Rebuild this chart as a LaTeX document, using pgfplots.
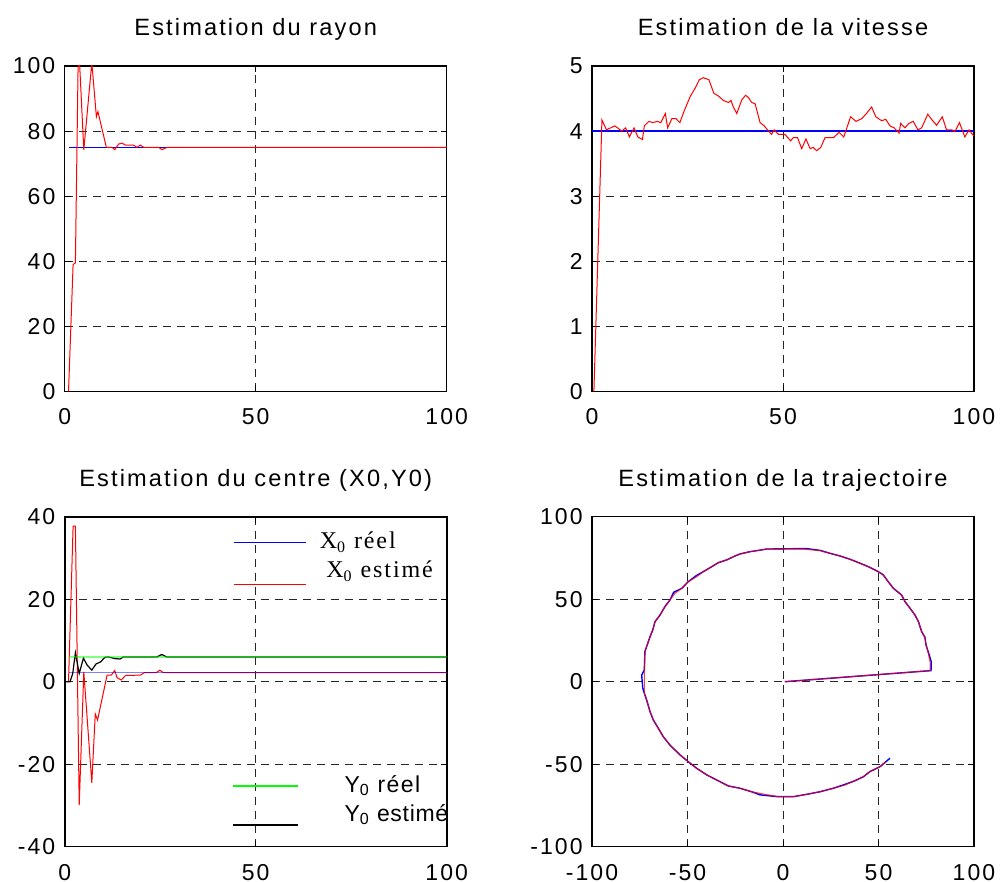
\documentclass[border=0pt]{standalone}
\usepackage{fontspec}
\setmainfont{Liberation Sans}[LetterSpace=9]
\newfontfamily\legserif{Liberation Serif}[LetterSpace=8]
\usepackage{pgfplots}
\pgfplotsset{compat=1.18}

\pgfplotsset{
  matlab/.style={
    scale only axis,
    width=191pt,
    anchor=south west,
    axis line style={line width=0.8pt},
    grid=major,
    grid style={dash pattern=on 4pt off 3pt, line width=0.5pt, black!85},
    tick align=inside, major tick length=3pt,
    tick style={black, line width=0.5pt},
    tick label style={font=\fontsize{11.5}{13}\selectfont},
    xticklabel style={anchor=north, inner sep=0pt, yshift=-8.5pt},
    yticklabel style={anchor=east, inner sep=0pt, xshift=-4.5pt},
    title style={anchor=base, yshift=9pt, inner sep=0pt,
      font=\fontsize{11.8}{13}\selectfont},
  },
  leg/.style={
    legend cell align=left,
    legend style={draw=none, fill=none, inner sep=0pt,
      nodes={inner sep=0pt}, font=\fontsize{11.5}{13}\selectfont},
  },
}

\begin{document}
\begin{tikzpicture}
\path[use as bounding box] (0,0) rectangle (504pt,441pt);

% rayon
\begin{axis}[matlab, at={(32.35pt,245.25pt)}, height=162.75pt,
  xmin=0, xmax=100, ymin=0, ymax=100,
  xtick={0,50,100}, xticklabels={0,50,100},
  ytick={0,20,40,60,80,100}, yticklabels={0,20,40,60,80,100},
  title={Estimation du rayon}]
\addplot[blue, line width=0.6pt] coordinates {(1,75) (100,75)};
\addplot[red, line width=0.5pt] coordinates {
  (1,0) (2.2,39) (2.8,39.5) (3.6,108) (5,74.2) (7.1,101) (8.3,84.4) (8.7,86)
  (10.9,75) (12.4,75) (13.1,74.3) (14.1,76) (15,76.3) (15.9,75.7) (18,75.7)
  (18.9,75) (19.8,75.7) (20.7,75) (24.6,75) (25.5,74.3) (26.8,75) (100,75)};
\end{axis}

% vitesse
\begin{axis}[matlab, at={(296pt,245.25pt)}, height=162.75pt,
  xmin=0, xmax=100, ymin=0, ymax=5,
  xtick={0,50,100}, xticklabels={0,50,100},
  ytick={0,1,2,3,4,5}, yticklabels={0,1,2,3,4,5},
  title={Estimation de la vitesse}]
\addplot[blue, line width=0.6pt] coordinates {(0,4) (100,4)};
\addplot[red, line width=0.5pt] coordinates {
  (0.5,0) (2.6,4.17) (3.8,4.02) (6,4.08) (7.8,4.0) (8.8,4.05) (9.8,3.91)
  (11,4.05) (12,3.91) (13.2,3.87) (13.7,4.08) (14.9,4.15) (15.9,4.13)
  (17.1,4.15) (18,4.13) (19.2,4.27) (19.8,4.05) (20.9,4.19) (22,4.19)
  (23,4.13) (24.2,4.32) (25.7,4.53) (27,4.66) (28.1,4.79) (29.1,4.82)
  (30.6,4.79) (31.9,4.58) (33.1,4.54) (34.4,4.47) (35.7,4.44) (36.4,4.47)
  (37,4.37) (37.9,4.27) (39.2,4.48) (40.2,4.55) (40.9,4.52) (41.8,4.44)
  (42.7,4.42) (44,4.13) (45.1,4.08) (46.2,4.0) (47,3.95) (47.7,4.02)
  (48.8,3.95) (50.5,3.95) (52,3.85) (52.7,3.9) (53.8,3.9) (54.9,3.73)
  (56,3.88) (57.1,3.73) (57.9,3.75) (58.8,3.7) (59.9,3.75) (61,3.9)
  (63.2,3.9) (64.7,3.98) (65.9,3.91) (67.7,4.22) (69.1,4.15) (70.6,4.19)
  (71.7,4.26) (73.2,4.37) (74.3,4.22) (75.8,4.16) (76.9,4.18) (78,4.08)
  (79.1,4.05) (80.4,3.97) (80.8,4.12) (81.9,4.05) (83,4.12) (84.1,4.15)
  (85.3,4.02) (86.3,4.05) (87.9,4.26) (88.9,4.18) (90.2,4.09) (91.7,4.22)
  (92.8,4.02) (94.2,4.02) (95,3.99) (96.2,4.13) (97.6,3.91) (98.7,4.02)
  (100,3.92)};
\end{axis}

% centre
\begin{axis}[matlab, leg, at={(32.35pt,17.65pt)}, height=165pt,
  xmin=0, xmax=100, ymin=-40, ymax=40,
  xtick={0,50,100}, xticklabels={0,50,100},
  ytick={-40,-20,0,20,40}, yticklabels={-40,-20,0,20,40},
  title={Estimation du centre (X0,Y0)},
  legend style={at={(0.441,0.927)}, anchor=north west, row sep=19.4pt},
  legend image code/.code={\draw[#1] (0pt,0pt) -- (36pt,0pt);}]
\addplot[red, line width=0.5pt, forget plot] coordinates {
  (1,0) (2.2,37.7) (2.8,37.7) (3.8,-29.9) (5,2.4) (7.1,-24.5) (8,-7.8)
  (8.6,-9.3) (11.1,1.6) (12.2,1.6) (13.1,2.7) (13.7,1.0) (14.8,0.4)
  (15.9,1.5) (19.8,1.6) (20.9,2.2) (24,2.2) (24.9,2.8) (25.8,2.2) (100,2.2)};
\addplot[blue, opacity=0.5, line width=0.6pt, forget plot] coordinates {(1,2.2) (100,2.2)};
\addlegendimage{blue, line width=0.8pt}
\addlegendentry{\raisebox{-3.75pt}[0pt][0pt]{\hspace{6.3pt}\legserif\fontsize{12}{13}\selectfont X\textsubscript{0} réel}}
\addlegendimage{red, line width=0.8pt}
\addlegendentry{\raisebox{2.75pt}[0pt][0pt]{\hspace{9.6pt}\legserif\fontsize{12}{13}\selectfont X\textsubscript{0} estimé}}
\end{axis}
\begin{axis}[leg, scale only axis, anchor=south west, at={(32.35pt,17.65pt)},
  width=191pt, height=165pt, hide axis,
  xmin=0, xmax=100, ymin=-40, ymax=40,
  legend style={at={(0.437,0.189)}, anchor=north west, row sep=17.9pt},
  legend image code/.code={\draw[#1] (0pt,0pt) -- (32.5pt,0pt);}]
\addplot[black, line width=0.6pt, forget plot] coordinates {
  (0,0) (1.4,0) (2.1,2.0) (2.8,7.0) (3.8,2.0) (4.9,5.7) (5.9,4.0) (7.1,2.8)
  (8.2,4.3) (9.4,4.8) (10.5,5.9) (11.4,6.0) (13.2,5.6) (14.5,5.5) (15.3,6.0)
  (24.1,6.0) (25.4,6.6) (26.7,6.0) (100,6.0)};
\addplot[green, opacity=0.5, line width=0.6pt, forget plot] coordinates {(1,6.0) (100,6.0)};
\addlegendimage{green, line width=0.8pt}
\addlegendentry{\raisebox{-3.75pt}[0pt][0pt]{\hspace{23pt}\addfontfeature{LetterSpace=6}Y\textsubscript{0} réel}}
\addlegendimage{black, line width=0.8pt}
\addlegendentry{\raisebox{1.1pt}[0pt][0pt]{\hspace{23pt}\addfontfeature{LetterSpace=3}Y\textsubscript{0} estimé}}
\end{axis}

% trajectoire
\begin{axis}[matlab, at={(296pt,17.65pt)}, height=165pt,
  xmin=-100, xmax=100, ymin=-100, ymax=100,
  xtick={-100,-50,0,50,100}, xticklabels={-100,-50,0,50,100},
  ytick={-100,-50,0,50,100}, yticklabels={-100,-50,0,50,100},
  title={Estimation de la trajectoire}]
\addplot[blue, line width=0.7pt] coordinates {
  (1,0) (77.5,6.7) (77.6,12.1) (76.3,17.2) (74.9,22.2) (74.3,26.9) (72.6,30.3)
  (70.9,36.4) (69.1,40.4) (66.5,44.5) (63.9,48.5) (62.1,52.5) (57.8,56.6)
  (55.1,60.6) (52.5,64.7) (49.9,66.7) (44.7,69.7) (40.3,71.8) (35.1,74.2)
  (29.8,76.2) (24.6,77.8) (19.4,79.6) (12,80.7) (-8.5,80.4) (-13.8,79.4)
  (-17.3,78.8) (-22.5,77.4) (-25.1,76.2) (-29.5,73.8) (-33.9,72.1)
  (-37.3,69.7) (-41.7,66.7) (-45.5,64.2) (-49.6,60.6) (-53,56.6)
  (-57.2,54.2) (-59.2,49.5) (-61.8,45.5) (-64.4,40.4) (-67,36.4) (-68.2,31.3)
  (-69.6,27.3) (-70.8,23.3) (-72.3,18.2) (-72.6,7.1) (-74,4) (-73.4,-4)
  (-72.6,-7.0) (-71.4,-11.1) (-69.6,-18.2) (-67.9,-23.2) (-65.3,-28.2)
  (-62.7,-33.3) (-59.2,-38.4) (-53.9,-44.4) (-49.6,-48.5) (-45.2,-52.5)
  (-39.9,-56.5) (-34.7,-59.6) (-28.6,-63.2) (-22.5,-64.6) (-16.4,-66.7)
  (-12,-68.6) (-2.5,-69.7) (5.4,-69.7) (13.2,-68.1) (19.4,-66.7) (26.3,-64.6)
  (32.5,-62.2) (37.7,-60) (42.1,-57.6) (45.5,-54.5) (50.8,-51.5) (56,-46.4)};
\addplot[red, opacity=0.75, line width=0.55pt] coordinates {
  (1,0) (77,6.7) (77,12.1) (76.1,17.2) (74.9,22.2) (74.3,26.9) (72.6,30.3)
  (70.9,36.4) (69.1,40.4) (66.5,44.5) (63.9,48.5) (62.1,52.5) (57.8,56.6)
  (55.1,60.6) (52.5,64.7) (49.9,66.7) (44.7,69.7) (40.3,71.8) (35.1,74.2)
  (29.8,76.2) (24.6,77.8) (19.4,79.4) (10.6,80.4) (-8.5,80.4) (-13.8,79.4)
  (-17.3,78.8) (-22.5,77.4) (-25.1,76.2) (-29.5,73.8) (-33.9,72.1)
  (-37.3,69.7) (-41.7,66.7) (-45.2,63.6) (-49.6,60.6) (-53,56.6)
  (-56.5,53.6) (-59.2,49.5) (-61.8,45.5) (-64.4,40.4) (-67,36.4) (-68.2,31.3)
  (-69.6,27.3) (-70.8,23.3) (-72.3,18.2) (-72.6,7.1) (-72.6,-7.0)
  (-71.4,-11.1) (-69.6,-18.2) (-67.9,-23.2) (-65.3,-28.2) (-62.7,-33.3)
  (-59.2,-38.4) (-53.9,-44.4) (-49.6,-48.5) (-45.2,-52.5) (-39.9,-56.5)
  (-34.7,-59.6) (-28.6,-63.2) (-22.5,-64.6) (-16.4,-66.7) (-10.3,-68.1)
  (-2.5,-69.7) (5.4,-69.7) (13.2,-68.1) (19.4,-66.7) (26.3,-64.6)
  (32.5,-62.6) (37.7,-60) (42.1,-57.6) (45.5,-54.5) (50.8,-51.5) (54,-48.5)};
\end{axis}
\end{tikzpicture}
\end{document}
